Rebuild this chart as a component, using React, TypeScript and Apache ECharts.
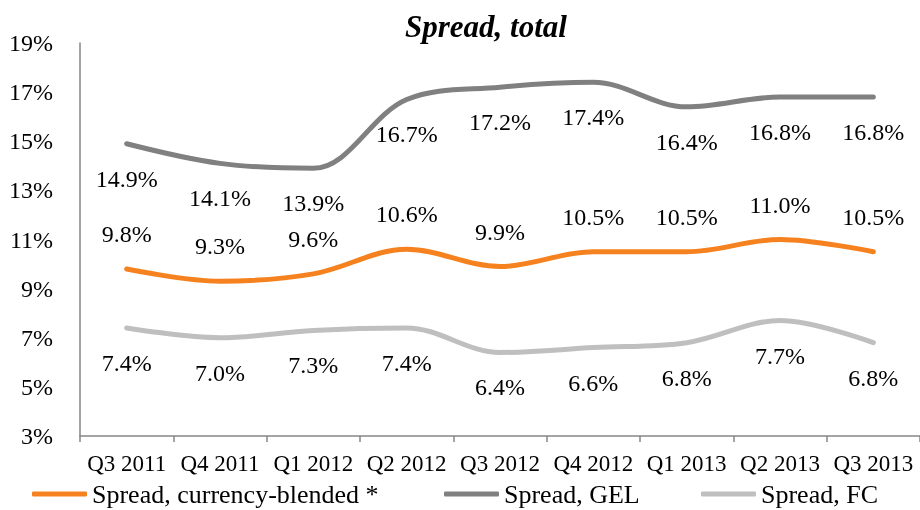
import React, { useEffect, useRef } from "react";
import * as echarts from "echarts";

const categories = ["Q3 2011", "Q4 2011", "Q1 2012", "Q2 2012", "Q3 2012", "Q4 2012", "Q1 2013", "Q2 2013", "Q3 2013"];
const blended = [9.8, 9.3, 9.6, 10.6, 9.9, 10.5, 10.5, 11.0, 10.5];
const gel = [14.9, 14.1, 13.9, 16.7, 17.2, 17.4, 16.4, 16.8, 16.8];
const fc = [7.4, 7.0, 7.3, 7.4, 6.4, 6.6, 6.8, 7.7, 6.8];
const seriesNames = ["Spread, currency-blended *", "Spread, GEL", "Spread, FC"];

const FONT = "'Liberation Serif', 'Times New Roman', serif";

export default function App() {
  const ref = useRef<HTMLDivElement>(null);
  useEffect(() => {
    if (!ref.current) return;
    const chart = echarts.init(ref.current, null, { renderer: "svg" });
    const mk = (name: string, data: number[], color: string, pos: "top" | "bottom") => ({
      name,
      type: "line",
      data,
      smooth: 0.35,
      symbol: "circle",
      symbolSize: 0,
      showSymbol: true,
      color,
      lineStyle: { color, width: 5, cap: "round" },
      itemStyle: { color },
      label: {
        show: true,
        position: pos,
        distance: 23,
        color: "#000",
        fontFamily: FONT,
        fontSize: 24,
        formatter: (p: any) => p.value.toFixed(1) + "%",
      },
      emphasis: { disabled: true },
    });
    const legendBase = {
      top: 476,
      icon: "roundRect",
      itemWidth: 55,
      itemHeight: 5,
      textStyle: { fontFamily: FONT, fontSize: 26, color: "#000" },
      selectedMode: false,
    };
    chart.setOption({
      animation: false,
      title: {
        text: "Spread, total",
        left: 400,
        top: 6,
        textStyle: { fontFamily: FONT, fontSize: 31, fontWeight: "bold", fontStyle: "italic", color: "#000" },
      },
      legend: [
        { ...legendBase, left: 27, data: [seriesNames[0]] },
        { ...legendBase, left: 439, data: [seriesNames[1]] },
        { ...legendBase, left: 696, data: [seriesNames[2]] },
      ],
      grid: { left: 80, right: 0, top: 43, bottom: 74, containLabel: false },
      xAxis: {
        type: "category",
        data: categories,
        boundaryGap: true,
        axisLine: { lineStyle: { color: "#868686", width: 1.5 } },
        axisTick: { show: true, length: 6, lineStyle: { color: "#868686", width: 1.5 } },
        axisLabel: { color: "#000", fontFamily: FONT, fontSize: 23, margin: 16, interval: 0 },
      },
      yAxis: {
        type: "value",
        min: 3,
        max: 19,
        interval: 2,
        axisLine: { show: true, lineStyle: { color: "#868686", width: 1.5 } },
        axisTick: { show: false },
        splitLine: { show: false },
        axisLabel: { color: "#000", fontFamily: FONT, fontSize: 24, margin: 27, formatter: (v: number) => v + "%" },
      },
      series: [
        mk(seriesNames[0], blended, "#F5821F", "top"),
        mk(seriesNames[1], gel, "#808080", "bottom"),
        mk(seriesNames[2], fc, "#BFBFBF", "bottom"),
      ],
    });
    return () => chart.dispose();
  }, []);
  return <div ref={ref} style={{ position: "fixed", left: 0, top: 0, width: 920, height: 510 }} />;
}
